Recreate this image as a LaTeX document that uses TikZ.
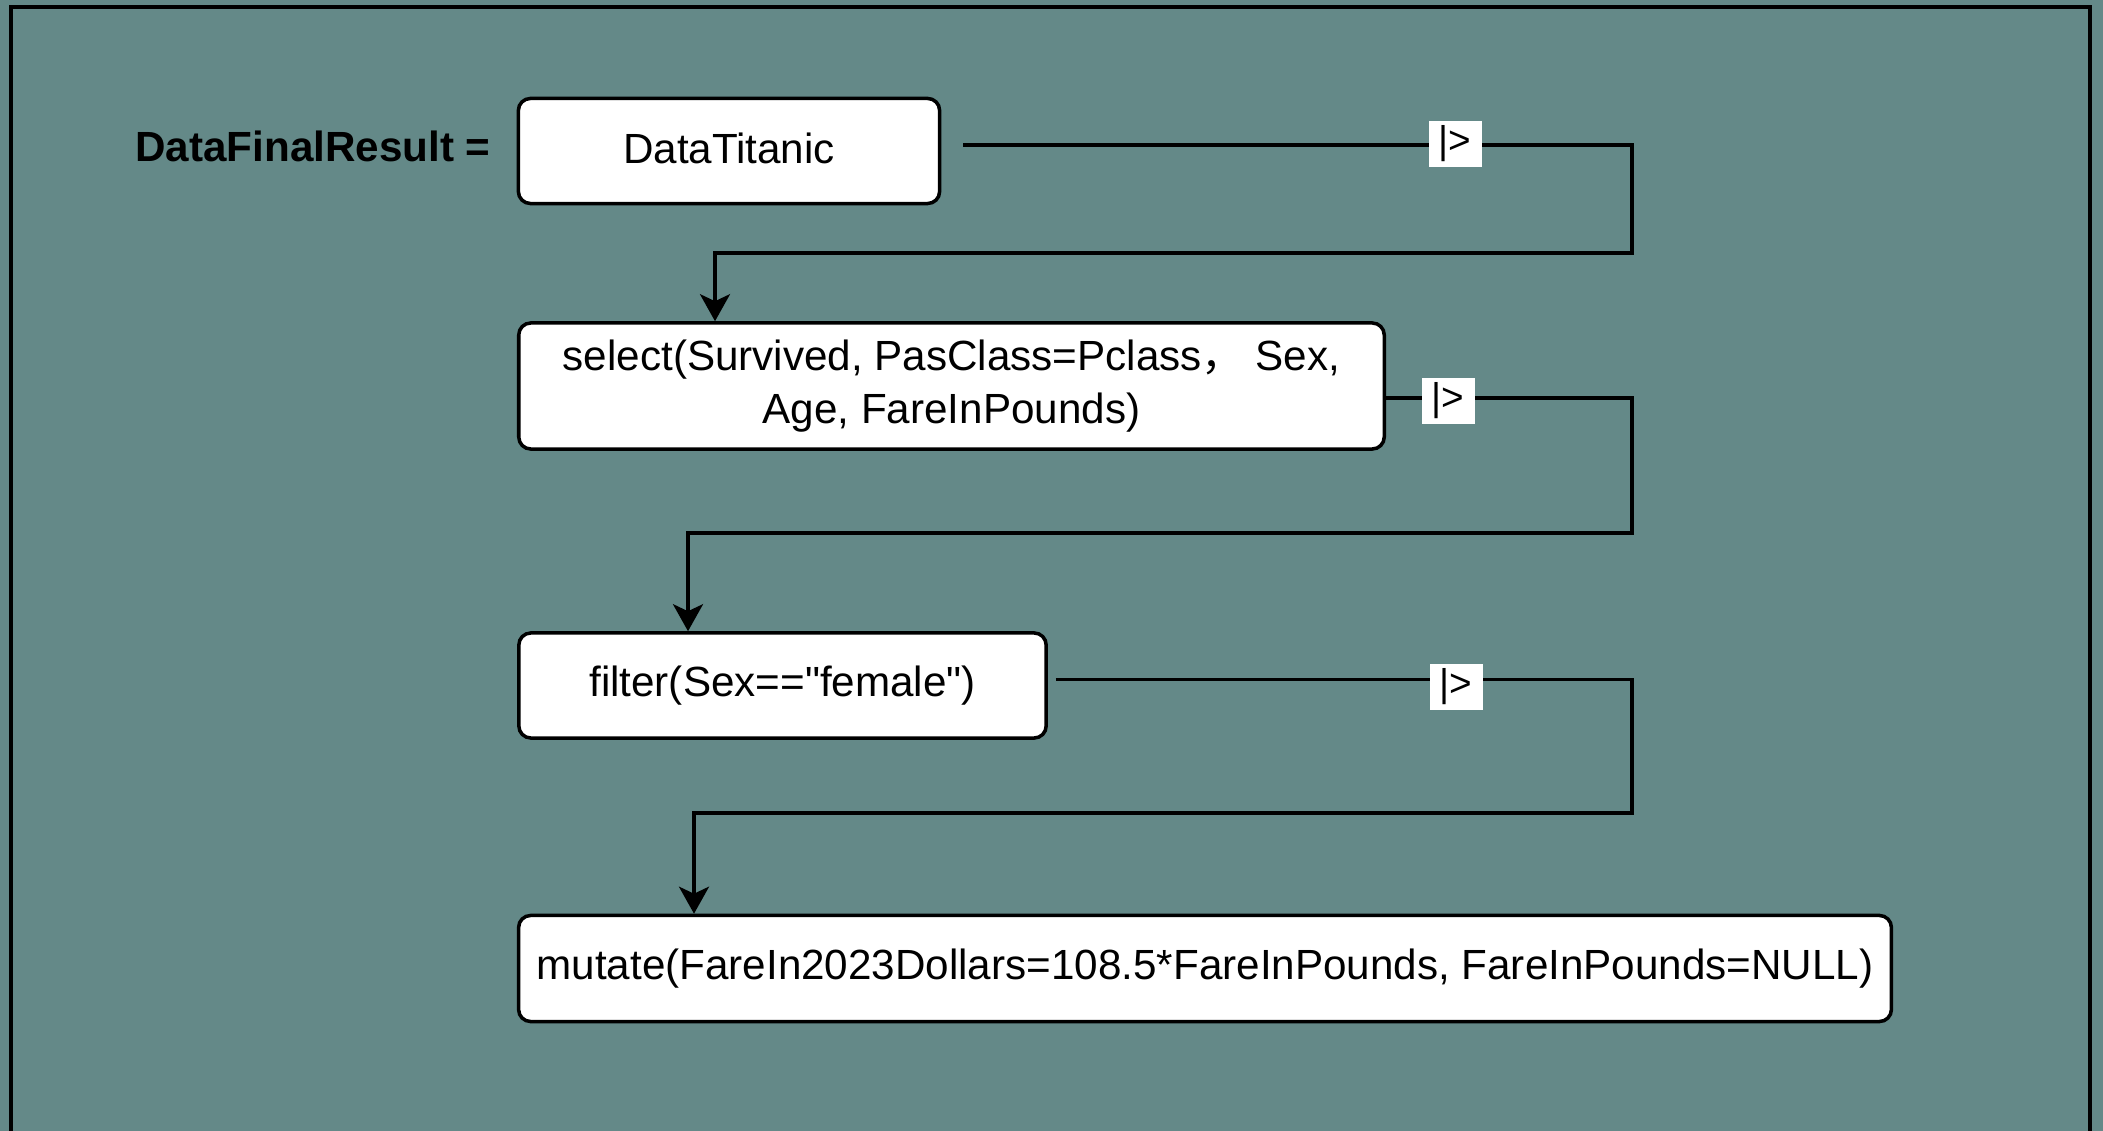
\documentclass[tikz,border=0pt]{standalone}
\usepackage{fontspec}
\setmainfont{Liberation Sans}
\newfontfamily\cjk{Noto Sans CJK SC}
\usetikzlibrary{arrows.meta}
\definecolor{bgteal}{RGB}{100,137,136}

\begin{document}
\begin{tikzpicture}[x=0.01cm, y=-0.01cm,
	step box/.style = {draw, line width=1pt, fill=white, rounded corners=0.12cm, inner sep=0pt, align=center, font=\fontsize{12}{15}\selectfont},
	pipe/.style = {line width=0.9pt, -{Stealth[length=0.27cm, width=0.3cm, inset=0.07cm]}},
	pipe label/.style = {fill=white, inner sep=0pt, minimum width=0.53cm, minimum height=0.46cm, font=\fontsize{11}{13}\selectfont}]
			
			\fill[bgteal] (0,0) rectangle (2103,1131);
			\useasboundingbox (0,0) rectangle (2103,1131);
			\draw[line width=0.04cm] (11,1160) -- (11,7) -- (2090,7) -- (2090,1160);
			
			\node[font=\fontsize{12}{15}\selectfont\bfseries] (res) at (313,146) {DataFinalResult =};
			
			\node[step box, minimum width=4.21cm, minimum height=1.05cm, text depth=0.05cm] (dt) at (729,151) {DataTitanic};
			\node[step box, minimum width=8.65cm, minimum height=1.26cm] (sel) at (951.5,386) {select(Survived, PasClass=Pclass{\cjk ，}  Sex,\\ Age, FareInPounds)};
			\node[step box, minimum width=5.27cm, minimum height=1.05cm] (fil) at (782.5,685.5) {filter(Sex==\textquotedbl female\textquotedbl)};
			\node[step box, minimum width=13.72cm, minimum height=1.06cm] (mut) at (1205,968.5) {mutate(FareIn2023Dollars=108.5*FareInPounds, FareInPounds=NULL)};
			
			
			\draw[pipe, shorten <=0.22cm] ([yshift=0.06cm]dt.east) -| (1632,253) -| (715,253 |- sel.north);
			\draw[pipe] ([yshift=-0.12cm]sel.east) -| (1632,533) -| (688,533 |- fil.north);
			\draw[pipe, shorten <=0.08cm] ([yshift=0.06cm]fil.east) -| (1632,813) -| (694,813 |- mut.north);
			
			\node[pipe label] (p1) at (1455,144) {|>};
			\node[pipe label] (p2) at (1448,401) {|>};
			\node[pipe label] (p3) at (1456,687) {|>};
			
\end{tikzpicture}
\end{document}
